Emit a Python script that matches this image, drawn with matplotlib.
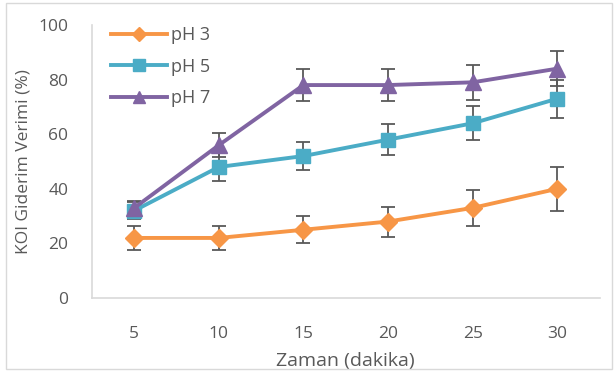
import matplotlib
matplotlib.use("Agg")
from matplotlib import pyplot as plt
from matplotlib.patches import Rectangle
from matplotlib.lines import Line2D

# values
zaman = [5, 10, 15, 20, 25, 30]
ph3 = [22, 22, 25, 28, 33, 40]
ph3_err = [4.3, 4.3, 5, 5.5, 6.7, 8]
ph5 = [32, 48, 52, 58, 64, 73]
ph5_err = [3, 5, 5, 5.7, 6.3, 7]
ph7 = [33, 56, 78, 78, 79, 84]
ph7_err = [2.5, 4.5, 6, 6, 6.4, 6.5]

text_color = "#595959"
plt.rcParams["font.family"] = ["Open Sans", "DejaVu Sans"]

fig = plt.figure(figsize=(6.14, 3.71), dpi=100)
fig.patches.append(Rectangle((6 / 614, 2 / 371), 606 / 614, 366 / 371,
                             transform=fig.transFigure, fill=False,
                             edgecolor="#D9D9D9", linewidth=1))
ax = fig.add_axes([92 / 614, 73 / 371, 507.5 / 614, 273 / 371])

series = [
    ("pH 3", ph3, ph3_err, "#F79646", "D", 9),
    ("pH 5", ph5, ph5_err, "#4BACC6", "s", 10),
    ("pH 7", ph7, ph7_err, "#8064A2", "^", 11),
]
handles = []
for label, vals, err, color, marker, ms in series:
    ax.errorbar(zaman, vals, yerr=err, color=color, ecolor="#595959",
                elinewidth=1.3, capsize=5, capthick=1.3, linewidth=2.8,
                marker=marker, markersize=ms)
    handles.append(Line2D([], [], color=color, linewidth=2.8, marker=marker,
                          markersize=ms - 2, label=label))

ax.set_xlim(2.5, 32.5)
ax.set_ylim(0, 100)
ax.set_xticks(zaman)
ax.set_yticks([0, 20, 40, 60, 80, 100])
ax.tick_params(length=0, labelsize=12.5, colors=text_color)
ax.tick_params(axis="y", pad=17)
ax.tick_params(axis="x", pad=20)
for side in ["top", "right"]:
    ax.spines[side].set_visible(False)
for side in ["left", "bottom"]:
    ax.spines[side].set_color("#D9D9D9")
    ax.spines[side].set_linewidth(1.2)

ax.set_xlabel("Zaman (dakika)", fontsize=14, color=text_color)
ax.xaxis.set_label_coords(0.5, -54 / 273, transform=ax.transAxes)
ax.set_ylabel("KOI Giderim Verimi (%)", fontsize=12.5, color=text_color, labelpad=5)

leg = ax.legend(handles=handles, loc="upper left", bbox_to_anchor=(0.005, 1.055),
                frameon=False, handlelength=3.1, labelspacing=0.75,
                handletextpad=0.25, fontsize=13)
for t in leg.get_texts():
    t.set_color(text_color)

fig.savefig("out.png", dpi=100)
